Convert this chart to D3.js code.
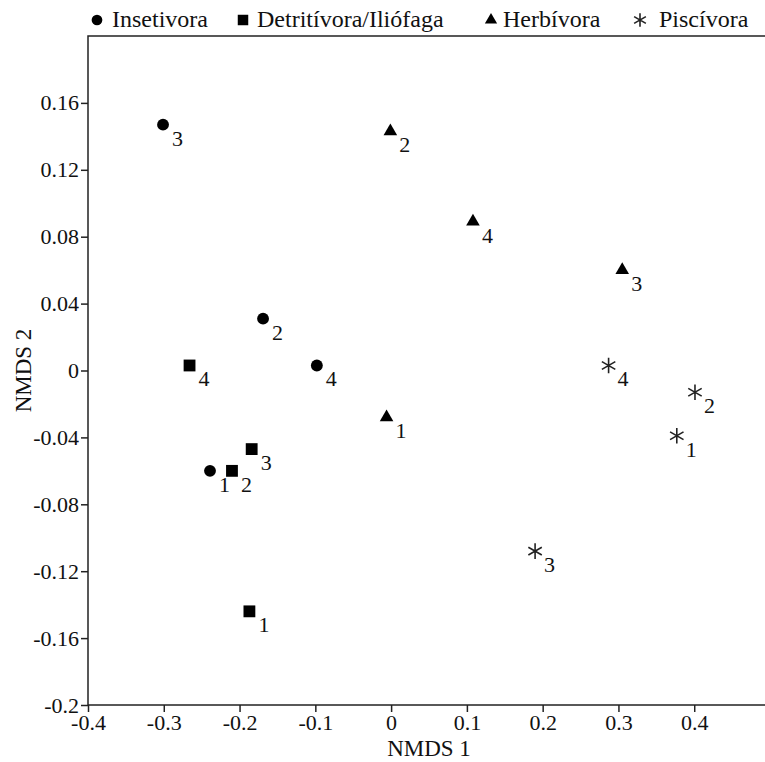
<!DOCTYPE html>
<html>
<head>
<meta charset="utf-8">
<script src="https://cdn.jsdelivr.net/npm/d3@7"></script>
<style>
  html, body { margin: 0; padding: 0; background: #fff; overflow: hidden; }
  svg { display: block; }
  text { font-family: "Palatino Linotype", "Book Antiqua", Palatino, "Liberation Serif", serif; fill: #111; }
</style>
</head>
<body>
<div id="chart"></div>
<script>
const width = 765;
const height = 762;
const margin = { top: 36, right: -5, bottom: 57, left: 88 };
const innerWidth = width - margin.left - margin.right;
const innerHeight = height - margin.top - margin.bottom;

// data
const groups = ["Insetivora", "Detritívora/Iliófaga", "Herbívora", "Piscívora"];
const insetivora = [
    { id: "1", x: -0.239, y: -0.060 },
    { id: "2", x: -0.169, y: 0.031 },
    { id: "3", x: -0.301, y: 0.147 },
    { id: "4", x: -0.098, y: 0.003 }
];
const detritivora = [
    { id: "1", x: -0.187, y: -0.144 },
    { id: "2", x: -0.210, y: -0.060 },
    { id: "3", x: -0.184, y: -0.047 },
    { id: "4", x: -0.266, y: 0.003 }
];
const herbivora = [
    { id: "1", x: -0.006, y: -0.028 },
    { id: "2", x: -0.001, y: 0.143 },
    { id: "3", x: 0.305, y: 0.060 },
    { id: "4", x: 0.108, y: 0.089 }
];
const piscivora = [
    { id: "1", x: 0.377, y: -0.039 },
    { id: "2", x: 0.401, y: -0.013 },
    { id: "3", x: 0.190, y: -0.108 },
    { id: "4", x: 0.287, y: 0.003 }
];
const xTicks = [-0.4, -0.3, -0.2, -0.1, 0, 0.1, 0.2, 0.3, 0.4];
const yTicks = [-0.2, -0.16, -0.12, -0.08, -0.04, 0, 0.04, 0.08, 0.12, 0.16];
const legendMarkX = [97, 243, 491, 640];
const legendTextX = [112, 257, 503, 659];

const series = [insetivora, detritivora, herbivora, piscivora];

const asterisk = d3.symbolAsterisk || {
    draw(context, size) {
        const r = Math.sqrt(size + Math.min(size / 28, 0.75)) * 0.59436;
        const t = r / 2, u = t * Math.sqrt(3);
        context.moveTo(0, r); context.lineTo(0, -r);
        context.moveTo(-u, -t); context.lineTo(u, t);
        context.moveTo(-u, t); context.lineTo(u, -t);
    }
};
const symbolTypes = [d3.symbolCircle, d3.symbolSquare, d3.symbolTriangle, asterisk];
const symbolSizes = [110, 140, 80, 170];
const legendSizes = [90, 110, 65, 130];

const fmt = d => String(+d.toFixed(2));

const svg = d3.select("#chart")
    .append("svg")
    .attr("width", width)
    .attr("height", height)
    .append("g")
    .attr("transform", `translate(${margin.left},${margin.top})`);

const xScale = d3.scaleLinear().domain([-0.4, 0.5]).range([0, innerWidth]);
const yScale = d3.scaleLinear().domain([-0.2, 0.2]).range([innerHeight, 0]);

function styleMark(sel, i) {
    if (i === 3) {
        sel.attr("fill", "none").attr("stroke", "#222").attr("stroke-width", 1.6);
    } else {
        sel.attr("fill", "#000").attr("stroke", "none");
    }
}

// frame
svg.append("rect")
    .attr("x", 0)
    .attr("y", 0)
    .attr("width", innerWidth)
    .attr("height", innerHeight)
    .attr("fill", "none")
    .attr("stroke", "#222")
    .attr("stroke-width", 1.5);

const xAxis = svg.append("g")
    .attr("transform", `translate(0,${innerHeight})`)
    .call(d3.axisBottom(xScale).tickValues(xTicks).tickSize(7).tickPadding(2).tickFormat(fmt));

const yAxis = svg.append("g")
    .call(d3.axisLeft(yScale).tickValues(yTicks).tickSize(7).tickPadding(2).tickFormat(fmt));

[xAxis, yAxis].forEach(a => {
    a.select(".domain").remove();
    a.selectAll("line").attr("stroke", "#222").attr("stroke-width", 1.5);
    a.selectAll("text").style("font-size", "22px").attr("fill", "#111");
});

svg.append("text")
    .attr("x", innerWidth / 2)
    .attr("y", innerHeight + 51)
    .style("text-anchor", "middle")
    .style("font-size", "23px")
    .text("NMDS 1");

svg.append("text")
    .attr("transform", "rotate(-90)")
    .attr("x", -innerHeight / 2)
    .attr("y", -margin.left + 31)
    .style("text-anchor", "middle")
    .style("font-size", "23px")
    .text("NMDS 2");

// points
series.forEach((data, i) => {
    const g = svg.append("g");
    g.selectAll(".pt")
        .data(data)
        .enter()
        .append("path")
        .attr("class", "pt")
        .attr("transform", d => `translate(${xScale(d.x)},${yScale(d.y)})`)
        .attr("d", d3.symbol().type(symbolTypes[i]).size(symbolSizes[i]))
        .call(styleMark, i);
    g.selectAll(".lbl")
        .data(data)
        .enter()
        .append("text")
        .attr("class", "lbl")
        .attr("x", d => xScale(d.x) + 9)
        .attr("y", d => yScale(d.y) + 21)
        .style("font-size", "22px")
        .text(d => d.id);
});

// legend
const legend = d3.select("svg").append("g");
groups.forEach((name, i) => {
    legend.append("path")
        .attr("transform", `translate(${legendMarkX[i]},20)`)
        .attr("d", d3.symbol().type(symbolTypes[i]).size(legendSizes[i]))
        .call(styleMark, i);
    legend.append("text")
        .attr("x", legendTextX[i])
        .attr("y", 27)
        .style("font-size", "24px")
        .text(name);
});
</script>
</body>
</html>
